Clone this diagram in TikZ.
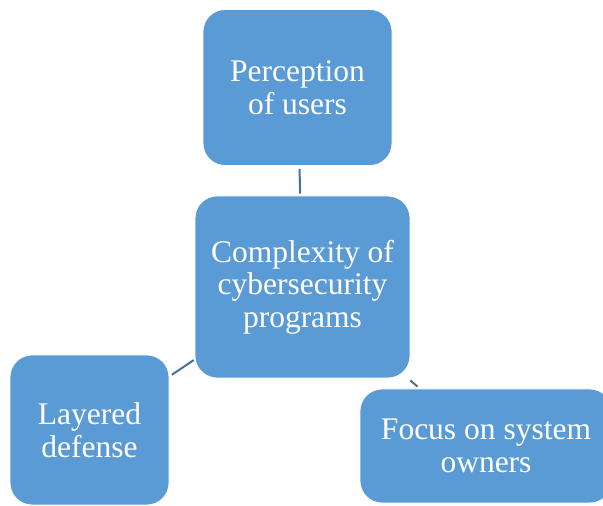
\documentclass[tikz,border=0pt]{standalone}
\usepackage{fontspec}
\setmainfont{Liberation Serif}
\definecolor{boxfill}{HTML}{5B9BD5}
\definecolor{linkcol}{HTML}{41719C}
\begin{document}
\begin{tikzpicture}[x=1pt,y=1pt,
  box/.style={rectangle, rounded corners=22pt, draw=white, line width=0.8pt,
    fill=boxfill, text=white, align=center, inner sep=0pt,
    font=\fontsize{31.5}{32.5}\selectfont},
  link/.style={draw=linkcol, line width=2pt}]
\useasboundingbox (0,0) rectangle (603,506);
\node[box, minimum width=189pt, minimum height=156pt] (top) at (297.5,418.5) {Perception\\of users};
\node[box, minimum width=215pt, minimum height=182pt] (mid) at (302.5,219) {Complexity of\\cybersecurity\\programs};
\node[box, minimum width=159pt, minimum height=150pt] (left) at (89.5,76) {Layered\\defense};
\node[box, minimum width=252pt, minimum height=114pt] (right) at (486,60) {Focus on system\\owners};
\draw[link, shorten <=3pt, shorten >=2pt] (top) -- (mid);
\draw[link, shorten <=1pt, shorten >=3pt] (mid) -- (left);
\draw[link, shorten <=3pt, shorten >=3pt] (mid) -- (right);
\end{tikzpicture}
\end{document}
